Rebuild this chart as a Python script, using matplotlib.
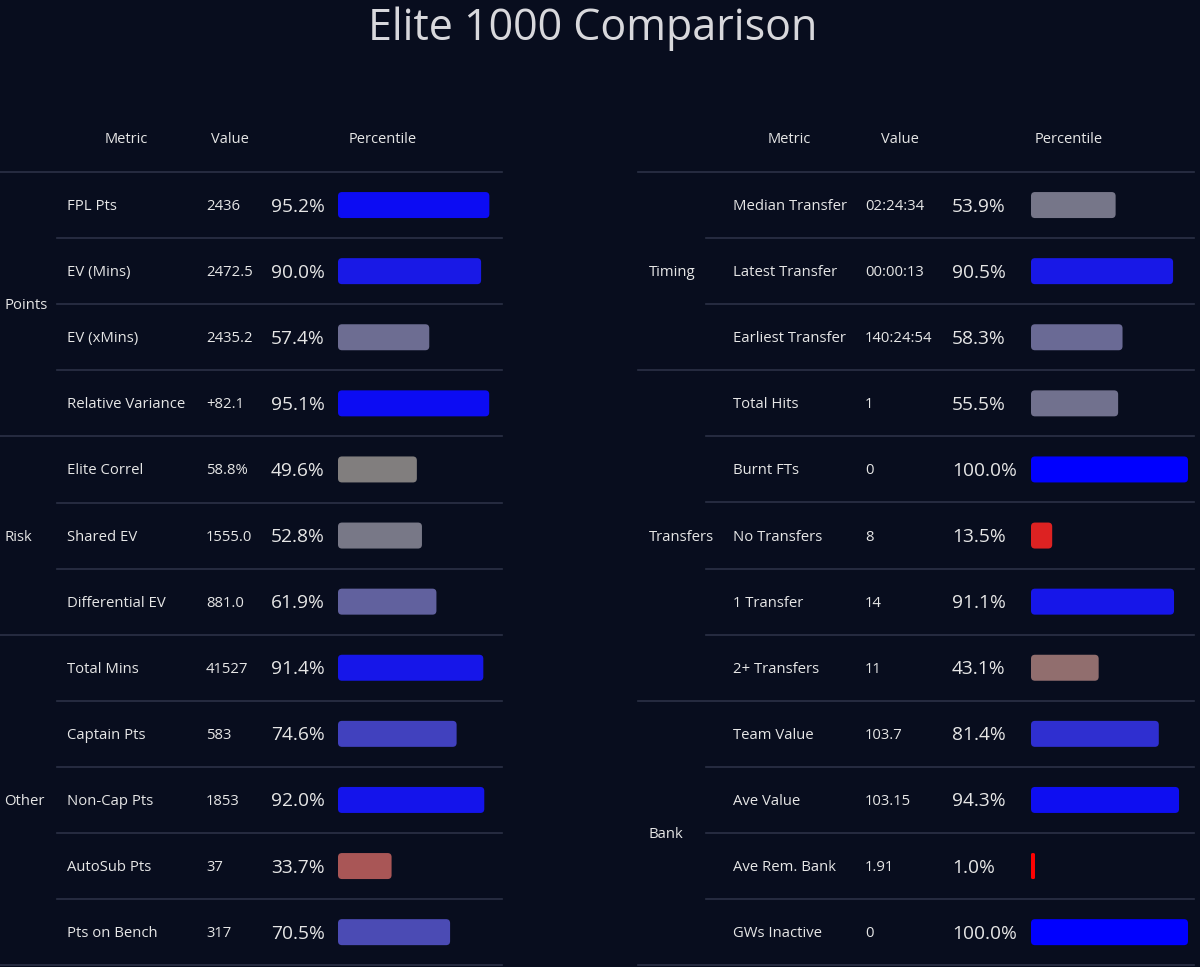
import matplotlib
matplotlib.use("Agg")
import matplotlib.pyplot as plt
from matplotlib.patches import FancyBboxPatch
from matplotlib.colors import LinearSegmentedColormap

# table data
left_groups = ["Points", "Risk", "Other"]
left_group_sizes = [4, 3, 5]
left_metrics = ["FPL Pts", "EV (Mins)", "EV (xMins)", "Relative Variance",
                "Elite Correl", "Shared EV", "Differential EV",
                "Total Mins", "Captain Pts", "Non-Cap Pts", "AutoSub Pts", "Pts on Bench"]
left_values = ["2436", "2472.5", "2435.2", "+82.1", "58.8%", "1555.0", "881.0",
               "41527", "583", "1853", "37", "317"]
left_pct = [95.2, 90.0, 57.4, 95.1, 49.6, 52.8, 61.9, 91.4, 74.6, 92.0, 33.7, 70.5]

right_groups = ["Timing", "Transfers", "Bank"]
right_group_sizes = [3, 5, 4]
right_metrics = ["Median Transfer", "Latest Transfer", "Earliest Transfer",
                 "Total Hits", "Burnt FTs", "No Transfers", "1 Transfer", "2+ Transfers",
                 "Team Value", "Ave Value", "Ave Rem. Bank", "GWs Inactive"]
right_values = ["02:24:34", "00:00:13", "140:24:54", "1", "0", "8", "14", "11",
                "103.7", "103.15", "1.91", "0"]
right_pct = [53.9, 90.5, 58.3, 55.5, 100.0, 13.5, 91.1, 43.1, 81.4, 94.3, 1.0, 100.0]

BG = "#080d1e"
TXT = "#e6e6e6"
LINE = "#2b3146"
cmap = LinearSegmentedColormap.from_list("pct", ["#ff0000", "#808080", "#0000ff"])

plt.rcParams["font.family"] = ["Open Sans", "DejaVu Sans"]

fig = plt.figure(figsize=(12, 9.67), dpi=100, facecolor=BG)
ax = fig.add_axes([0, 0, 1, 1])
ax.set_facecolor(BG)
ax.set_xlim(0, 1200)
ax.set_ylim(967, 0)
ax.axis("off")

ax.text(593, 29, "Elite 1000 Comparison", ha="center", va="center",
        fontsize=31, color="#d8d8dc")

TOP = 172.0
ROW_H = 66.1
DY = 1.5  # small nudge so text sits on the row centre


def draw_table(groups, sizes, metrics, values, pct, x):
    # x: dict of column positions in pixels
    ax.text(x["metric_hdr"], 138 + DY, "Metric", ha="center", va="center", fontsize=10.5, color=TXT)
    ax.text(x["value_hdr"], 138 + DY, "Value", ha="center", va="center", fontsize=10.5, color=TXT)
    ax.text(x["pct_hdr"], 138 + DY, "Percentile", ha="center", va="center", fontsize=10.5, color=TXT)

    ax.plot([x["left"], x["right"]], [TOP, TOP], color=LINE, lw=1.2)
    row = 0
    for g, n in zip(groups, sizes):
        y0 = TOP + row * ROW_H
        y1 = TOP + (row + n) * ROW_H
        ax.text(x["group"], (y0 + y1) / 2 + DY, g, ha="left", va="center", fontsize=10.7, color=TXT)
        ax.plot([x["left"], x["right"]], [y1, y1], color=LINE, lw=1.2)
        for k in range(1, n):
            yy = y0 + k * ROW_H
            ax.plot([x["row_left"], x["right"]], [yy, yy], color=LINE, lw=1.2)
        row += n

    for i, (m, v, p) in enumerate(zip(metrics, values, pct)):
        yc = TOP + (i + 0.5) * ROW_H
        ax.text(x["metric"], yc + DY, m, ha="left", va="center", fontsize=10.7, color=TXT)
        ax.text(x["value"], yc + DY, v, ha="left", va="center", fontsize=10.7, color=TXT)
        ax.text(x["pct"], yc + DY, f"{p:.1f}%", ha="left", va="center", fontsize=13.8, color=TXT)
        w = max(p / 100 * x["bar_w"], 4)
        bh = 26
        rad = min(4, w / 2 - 0.5)
        bar = FancyBboxPatch((x["bar"] + rad, yc - bh / 2 + rad), w - 2 * rad, bh - 2 * rad,
                             boxstyle=f"round,pad={rad}", linewidth=0,
                             facecolor=cmap(p / 100))
        ax.add_patch(bar)


draw_table(left_groups, left_group_sizes, left_metrics, left_values, left_pct,
           dict(left=0, right=502, row_left=57, group=4, metric=67, value=206,
                pct=271, bar=338, bar_w=159,
                metric_hdr=126, value_hdr=230, pct_hdr=383))
draw_table(right_groups, right_group_sizes, right_metrics, right_values, right_pct,
           dict(left=638, right=1194, row_left=706, group=649, metric=733, value=865,
                pct=952, bar=1031, bar_w=157,
                metric_hdr=789, value_hdr=900, pct_hdr=1069))

fig.savefig("out.png", dpi=100, facecolor=BG)
